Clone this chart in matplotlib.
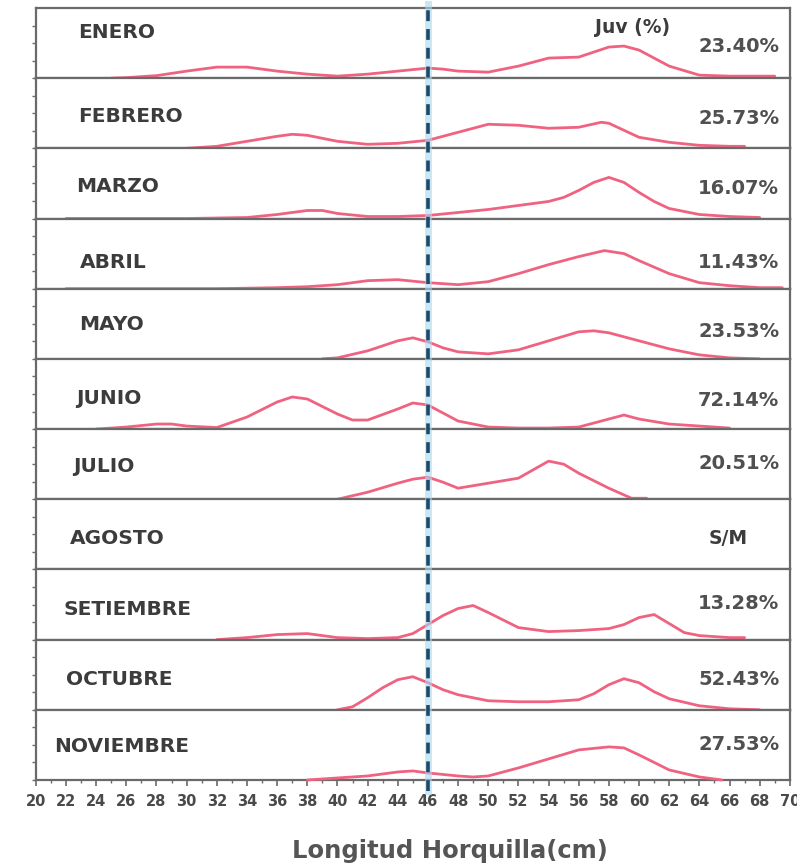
import matplotlib.pyplot as plt
from matplotlib.lines import Line2D
import matplotlib.transforms as mtransforms

# monthly length-frequency curves (relative units)

meses = ['ENERO', 'FEBRERO', 'MARZO', 'ABRIL', 'MAYO', 'JUNIO', 'JULIO',
         'AGOSTO', 'SETIEMBRE', 'OCTUBRE', 'NOVIEMBRE']
juv = ['23.40%', '25.73%', '16.07%', '11.43%', '23.53%', '72.14%', '20.51%',
       'S/M', '13.28%', '52.43%', '27.53%']

enero_x = [25, 26, 28, 30, 32, 34, 36, 38, 40, 42, 44, 46, 47, 48, 50, 52, 54, 56, 58, 59, 60, 62, 64, 66, 68, 69]
enero_y = [0, 0.1, 0.5, 1.4, 2.2, 2.2, 1.4, 0.8, 0.4, 0.8, 1.4, 2.0, 1.8, 1.4, 1.2, 2.4, 4.0, 4.2, 6.2, 6.4, 5.6, 2.4, 0.6, 0.4, 0.4, 0.4]

febrero_x = [30, 32, 34, 36, 37, 38, 40, 42, 44, 46, 48, 50, 52, 54, 56, 57.5, 58, 60, 62, 64, 66, 67]
febrero_y = [0, 0.4, 1.4, 2.4, 2.8, 2.6, 1.4, 0.8, 1.0, 1.6, 3.2, 4.8, 4.6, 4.0, 4.2, 5.2, 5.0, 2.2, 1.2, 0.6, 0.4, 0.4]

marzo_x = [22, 24, 26, 28, 30, 32, 34, 36, 38, 39, 40, 42, 44, 46, 48, 50, 52, 54, 55, 56, 57, 58, 59, 60, 61, 62, 64, 66, 68]
marzo_y = [0, 0, 0, 0, 0, 0.1, 0.2, 0.8, 1.6, 1.6, 1.0, 0.4, 0.4, 0.6, 1.2, 1.8, 2.6, 3.4, 4.2, 5.6, 7.2, 8.2, 7.2, 5.2, 3.4, 2.0, 0.8, 0.4, 0.2]

abril_x = [22, 24, 26, 28, 30, 32, 34, 36, 38, 40, 42, 44, 46, 48, 50, 52, 54, 56, 57.7, 59, 60, 62, 64, 66, 68, 69.5]
abril_y = [0, 0, 0, 0, 0, 0, 0.1, 0.2, 0.4, 0.8, 1.6, 1.8, 1.2, 0.8, 1.4, 3.0, 4.8, 6.4, 7.6, 7.0, 5.6, 3.0, 1.2, 0.6, 0.2, 0.2]

mayo_x = [39, 40, 42, 44, 45, 46, 47, 48, 50, 52, 54, 56, 57, 58, 60, 62, 64, 66, 68]
mayo_y = [0, 0.2, 1.6, 3.6, 4.2, 3.4, 2.2, 1.4, 1.0, 1.8, 3.6, 5.4, 5.6, 5.2, 3.6, 2.0, 0.8, 0.2, 0]

junio_x = [24, 26, 28, 29, 30, 32, 34, 36, 37, 38, 40, 41, 42, 44, 45, 46, 48, 50, 52, 54, 56, 58, 59, 60, 62, 64, 66]
junio_y = [0, 0.4, 1.0, 1.0, 0.6, 0.3, 2.4, 5.4, 6.4, 6.0, 3.0, 1.8, 1.8, 4.0, 5.2, 4.8, 1.6, 0.4, 0.2, 0.2, 0.4, 2.0, 2.8, 2.0, 1.0, 0.6, 0.2]

julio_x = [40, 42, 44, 45, 46, 47, 48, 50, 52, 54, 55, 56, 58, 59.5, 60.5]
julio_y = [0, 1.4, 3.2, 4.0, 4.4, 3.4, 2.2, 3.2, 4.2, 7.6, 7.0, 5.2, 2.2, 0.2, 0.2]

agosto_x = []
agosto_y = []

setiembre_x = [32, 34, 36, 38, 40, 42, 44, 45, 46, 47, 48, 49, 50, 52, 54, 56, 58, 59, 60, 61, 62, 63, 64, 66, 67]
setiembre_y = [0, 0.4, 1.0, 1.2, 0.4, 0.2, 0.4, 1.2, 3.0, 4.8, 6.2, 6.8, 5.4, 2.4, 1.6, 1.8, 2.2, 3.0, 4.4, 5.0, 3.2, 1.4, 0.8, 0.4, 0.4]

octubre_x = [40, 41, 42, 43, 44, 45, 46, 47, 48, 50, 52, 54, 56, 57, 58, 59, 60, 61, 62, 64, 66, 68]
octubre_y = [0, 0.6, 2.4, 4.4, 6.0, 6.6, 5.4, 4.0, 3.0, 1.8, 1.6, 1.6, 2.0, 3.2, 5.0, 6.2, 5.4, 3.6, 2.2, 0.8, 0.2, 0]

noviembre_x = [38, 40, 42, 44, 45, 46, 48, 49, 50, 52, 54, 56, 58, 59, 60, 62, 64, 65.5]
noviembre_y = [0, 0.4, 0.8, 1.6, 1.8, 1.4, 0.8, 0.6, 0.8, 2.4, 4.2, 6.0, 6.6, 6.4, 5.0, 2.0, 0.6, 0]

curvas_x = [enero_x, febrero_x, marzo_x, abril_x, mayo_x, junio_x, julio_x,
            agosto_x, setiembre_x, octubre_x, noviembre_x]
curvas_y = [enero_y, febrero_y, marzo_y, abril_y, mayo_y, junio_y, julio_y,
            agosto_y, setiembre_y, octubre_y, noviembre_y]

talla_ref = 46  # vertical reference line (cm)

# label placement inside each panel (x in cm, y as fraction of panel)
mes_x = [22.8, 22.8, 22.65, 22.9, 22.9, 22.65, 22.45, 22.25, 21.8, 22.0, 21.2]
mes_y = [0.65, 0.45, 0.46, 0.37, 0.49, 0.43, 0.46, 0.44, 0.43, 0.43, 0.47]
juv_y = [0.45, 0.42, 0.43, 0.37, 0.39, 0.41, 0.51, 0.44, 0.51, 0.43, 0.51]

rosa = '#ef6381'
gris = '#6a6a6a'
texto = '#3c3c3c'

fig, axes = plt.subplots(11, 1, sharex=True, figsize=(7.97, 8.65), dpi=100)
fig.subplots_adjust(left=0.045, right=0.991, top=0.9908, bottom=0.0983, hspace=0)

for i, ax in enumerate(axes):
    if len(curvas_x[i]) > 0:
        ax.plot(curvas_x[i], curvas_y[i], color=rosa, lw=2.0, zorder=3,
                solid_joinstyle='round', solid_capstyle='round', clip_on=False)
    ax.set_xlim(20, 70)
    ax.set_ylim(0, 14)
    for s in ax.spines.values():
        s.set_color(gris)
        s.set_linewidth(1.6)
    ax.set_yticks([0, 3.5, 7, 10.5])
    ax.set_yticklabels([])
    ax.tick_params(axis='y', direction='out', length=3, width=1, color=gris)
    ax.tick_params(axis='x', which='both', bottom=(i == 10), length=0)
    tr = ax.get_xaxis_transform()
    ax.text(mes_x[i], mes_y[i], meses[i], transform=tr,
            fontsize=14.5, fontweight='bold', color=texto, va='center', ha='left')
    if juv[i] == 'S/M':
        ax.text(65.9, juv_y[i], juv[i], transform=tr,
                fontsize=13.5, fontweight='bold', color=texto, va='center', ha='center')
    else:
        ax.text(69.3, juv_y[i], juv[i], transform=tr,
                fontsize=14, fontweight='bold', color='#505050', va='center', ha='right')

axes[0].text(59.6, 0.72, 'Juv (%)', transform=axes[0].get_xaxis_transform(),
             fontsize=13.5, fontweight='bold', color=texto, va='center', ha='center')

# x axis on bottom panel
ax = axes[-1]
ax.set_xticks(range(20, 71, 2))
ax.set_xticks(range(20, 71, 1), minor=True)
ax.tick_params(axis='x', which='major', direction='out', length=4, width=1.2,
               color=gris, labelsize=10.5, labelcolor='#4a4a4a', pad=6)
ax.tick_params(axis='x', which='minor', direction='out', length=2.5, width=1, color=gris)
plt.setp(ax.get_xticklabels(), fontweight='bold')
ax.set_xlabel('Longitud Horquilla(cm)', fontsize=17.5, fontweight='bold',
              color='#555555')
ax.xaxis.set_label_coords(0.549, -0.84)

# dashed reference line across all panels
trans = mtransforms.blended_transform_factory(ax.transData, fig.transFigure)
fig.add_artist(Line2D([talla_ref, talla_ref], [0.085, 0.995], transform=trans,
                      color='#a8d8f0', lw=5, alpha=0.6, zorder=5))
fig.add_artist(Line2D([talla_ref, talla_ref], [0.085, 0.995], transform=trans,
                      color='#1e4a68', lw=2.6, dashes=(3, 2.2), zorder=6))

fig.savefig('out.png', dpi=100)
